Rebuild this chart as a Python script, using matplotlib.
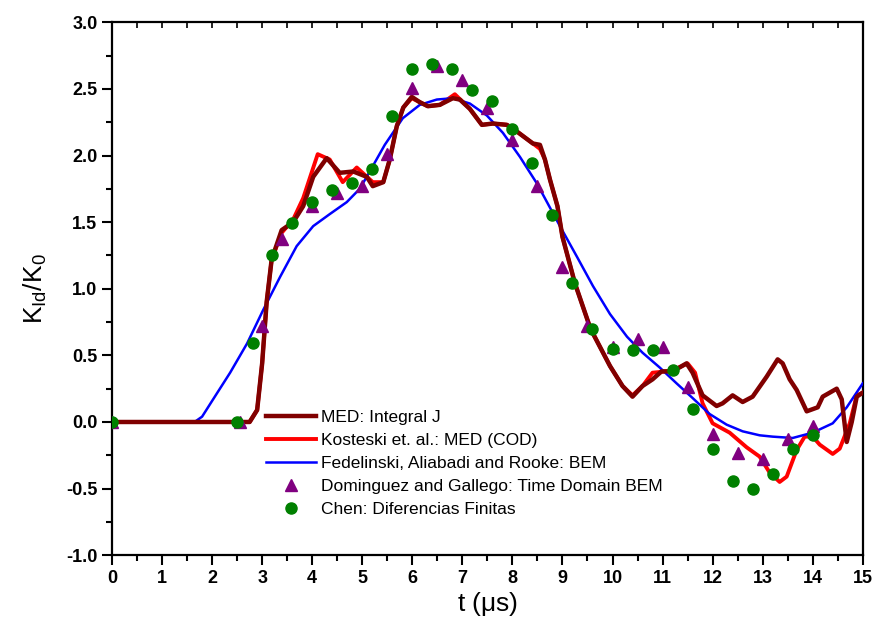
import matplotlib
matplotlib.use("Agg")
import matplotlib.pyplot as plt
from matplotlib.ticker import MultipleLocator

plt.rcParams['font.family'] = ['Liberation Sans', 'DejaVu Sans']

# MED: Integral J
med_t = [0, 2.75, 2.9, 3.0, 3.09, 3.19, 3.39, 3.62, 3.82, 4.02, 4.29, 4.55, 4.82, 5.09,
         5.21, 5.42, 5.55, 5.69, 5.82, 5.99, 6.15, 6.31, 6.55, 6.81, 6.95, 7.15, 7.39,
         7.61, 7.89, 8.09, 8.41, 8.55, 8.65, 8.75, 8.9, 9.0, 9.25, 9.56, 9.95,
         10.2, 10.4, 10.6, 10.8, 10.98, 11.2, 11.48, 11.6, 11.8, 12.08, 12.2, 12.4,
         12.6, 12.8, 13.08, 13.3, 13.4, 13.54, 13.68, 13.88, 14.1, 14.2, 14.48, 14.58,
         14.68, 14.78, 14.88, 15.0]
med_k = [0, 0, 0.09, 0.44, 0.9, 1.22, 1.44, 1.5, 1.62, 1.84, 1.98, 1.87, 1.88, 1.84,
         1.77, 1.8, 1.97, 2.22, 2.36, 2.44, 2.4, 2.37, 2.38, 2.43, 2.42, 2.35, 2.23,
         2.24, 2.23, 2.18, 2.09, 2.08, 1.97, 1.82, 1.62, 1.39, 1.04, 0.70, 0.42,
         0.27, 0.19, 0.27, 0.32, 0.38, 0.38, 0.44, 0.37, 0.2, 0.12, 0.14, 0.2,
         0.15, 0.19, 0.34, 0.47, 0.44, 0.32, 0.24, 0.08, 0.11, 0.19, 0.25, 0.17,
         -0.15, 0.0, 0.19, 0.22]

# Kosteski et. al.: MED (COD)
cod_t = [0, 2.75, 2.9, 3.0, 3.09, 3.19, 3.39, 3.62, 3.82, 4.11, 4.35, 4.61, 4.89, 5.21,
         5.42, 5.55, 5.69, 5.82, 5.99, 6.15, 6.31, 6.55, 6.85, 7.15, 7.39, 7.61, 7.89,
         8.09, 8.41, 8.55, 8.65, 8.75, 8.9, 9.0, 9.25, 9.56, 9.95, 10.2, 10.4,
         10.6, 10.8, 11.08, 11.34, 11.5, 11.65, 11.8, 12.0, 12.34, 12.68, 12.94, 13.14,
         13.34, 13.48, 13.68, 13.84, 14.0, 14.14, 14.4, 14.54, 14.74, 14.88, 15.0]
cod_k = [0, 0, 0.09, 0.44, 0.9, 1.22, 1.42, 1.52, 1.68, 2.01, 1.97, 1.8, 1.91, 1.8,
         1.8, 1.97, 2.22, 2.36, 2.43, 2.4, 2.37, 2.38, 2.46, 2.35, 2.23, 2.24, 2.23,
         2.18, 2.09, 2.05, 1.97, 1.82, 1.62, 1.39, 1.04, 0.70, 0.42, 0.27, 0.2,
         0.27, 0.37, 0.38, 0.41, 0.44, 0.37, 0.14, -0.01, -0.08, -0.19, -0.26, -0.38,
         -0.45, -0.41, -0.21, -0.11, -0.11, -0.17, -0.24, -0.2, -0.01, 0.2, 0.22]

# Fedelinski, Aliabadi and Rooke: BEM
bem_t = [0, 1.65, 1.8, 2.02, 2.36, 2.7, 3.02, 3.36, 3.69, 4.02, 4.35, 4.69, 4.95, 5.15,
         5.45, 5.81, 6.15, 6.49, 6.81, 7.15, 7.49, 7.81, 8.15, 8.49, 8.95, 9.29, 9.61,
         9.95, 10.29, 10.6, 10.94, 11.28, 11.6, 11.94, 12.28, 12.6, 12.94, 13.2, 13.6,
         14.0, 14.4, 14.68, 15.0]
bem_k = [0, 0, 0.04, 0.17, 0.37, 0.59, 0.84, 1.09, 1.32, 1.47, 1.56, 1.65, 1.75, 1.88,
         2.08, 2.28, 2.38, 2.42, 2.43, 2.39, 2.3, 2.17, 1.99, 1.79, 1.47, 1.24, 1.02,
         0.81, 0.64, 0.52, 0.41, 0.29, 0.18, 0.06, -0.02, -0.07, -0.1, -0.11, -0.12,
         -0.08, -0.01, 0.11, 0.29]

# Dominguez and Gallego: Time Domain BEM
tdbem_t = [0, 2.55, 3.0, 3.4, 4.0, 4.5, 5.0, 5.5, 6.0, 6.5, 7.0, 7.5, 8.0, 8.5, 9.0,
           9.5, 10.0, 10.5, 11.0, 11.5, 12.0, 12.5, 13.0, 13.5, 14.0]
tdbem_k = [0, 0, 0.72, 1.37, 1.62, 1.72, 1.77, 2.01, 2.51, 2.67, 2.57, 2.36, 2.12, 1.77,
           1.16, 0.72, 0.56, 0.62, 0.56, 0.26, -0.09, -0.23, -0.28, -0.13, -0.03]

# Chen: Diferencias Finitas
fd_t = [0, 2.5, 2.82, 3.2, 3.6, 4.0, 4.4, 4.8, 5.2, 5.6, 6.0, 6.4, 6.8, 7.2, 7.6, 8.0,
        8.4, 8.8, 9.2, 9.6, 10.0, 10.4, 10.8, 11.2, 11.6, 12.0, 12.4, 12.8, 13.2, 13.6, 14.0]
fd_k = [0, 0, 0.59, 1.25, 1.49, 1.65, 1.74, 1.79, 1.9, 2.3, 2.65, 2.69, 2.65, 2.49, 2.41,
        2.2, 1.94, 1.55, 1.04, 0.7, 0.55, 0.54, 0.54, 0.39, 0.1, -0.2, -0.44, -0.5, -0.39,
        -0.2, -0.1]

fig = plt.figure(figsize=(8.75, 6.36), dpi=100)
ax = fig.add_axes([0.128, 0.127, 0.858, 0.838])

# top ticks: short and pointing inward, no labels
top = ax.twiny()
top.set_xlim(0, 15)
top.xaxis.set_major_locator(MultipleLocator(0.5))
top.tick_params(axis="x", direction="in", length=4, width=1.2, labeltop=False)
for sp in top.spines.values():
    sp.set_visible(False)

ax.plot(med_t, med_k, color="#800000", linewidth=3.2, label="MED: Integral J",
        zorder=4, solid_joinstyle="round")
ax.plot(cod_t, cod_k, color="#ff0000", linewidth=2.8, label="Kosteski et. al.: MED (COD)",
        zorder=3, solid_joinstyle="round")
ax.plot(bem_t, bem_k, color="#0000ff", linewidth=1.8, label="Fedelinski, Aliabadi and Rooke: BEM",
        zorder=3, solid_joinstyle="round")
ax.plot(tdbem_t, tdbem_k, linestyle="none", marker="^", markersize=9, color="#800080",
        label="Dominguez and Gallego: Time Domain BEM", zorder=5)
ax.plot(fd_t, fd_k, linestyle="none", marker="o", markersize=8, color="#008000",
        label="Chen: Diferencias Finitas", zorder=6)

ax.set_xlim(0, 15)
ax.set_ylim(-1.0, 3.0)
ax.xaxis.set_major_locator(MultipleLocator(1))
ax.xaxis.set_minor_locator(MultipleLocator(0.5))
ax.yaxis.set_major_locator(MultipleLocator(0.5))
ax.yaxis.set_minor_locator(MultipleLocator(0.25))
ax.yaxis.set_major_formatter(plt.FormatStrFormatter('%.1f'))

ax.tick_params(which="both", direction="out", width=1.5, top=False, right=False,
               labelsize=13)
ax.tick_params(which="major", length=7)
ax.tick_params(which="minor", length=4)
for lbl in ax.get_xticklabels() + ax.get_yticklabels():
    lbl.set_fontweight("bold")

for sp in ax.spines.values():
    sp.set_linewidth(1.6)

ax.set_xlabel(r"t ($\mathregular{\mu}$s)", fontsize=19, labelpad=2)
ax.set_ylabel(r"$\mathregular{K_{Id}/K_0}$", fontsize=19, labelpad=12)

ax.legend(loc="upper left", bbox_to_anchor=(0.205, 0.272), frameon=False, fontsize=12.5,
          handlelength=2.9, labelspacing=0.45, handletextpad=0.25, borderpad=0,
          borderaxespad=0)

fig.savefig("out.png", dpi=100)
